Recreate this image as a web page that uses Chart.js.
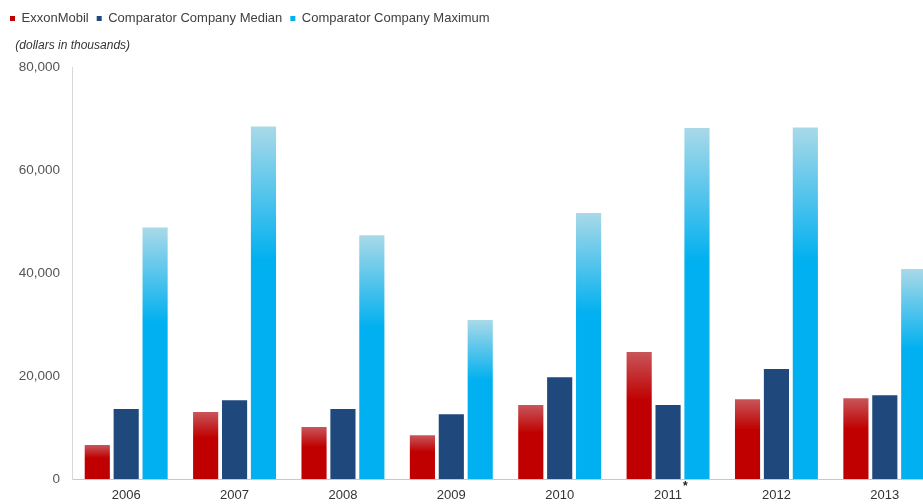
<!DOCTYPE html>
<html>
<head>
<meta charset="utf-8">
<script src="https://cdn.jsdelivr.net/npm/chart.js@4.4.1/dist/chart.umd.min.js"></script>
<style>
  html, body { margin: 0; padding: 0; background: #fff; overflow: hidden; }
  #wrap { width: 939px; height: 504px; position: relative; }
</style>
</head>
<body>
<div id="wrap"><canvas id="payChart"></canvas></div>
<script>
  const years = ['2006', '2007', '2008', '2009', '2010', '2011', '2012', '2013'];
  const exxonMobil = [6600, 13000, 10100, 8500, 14400, 24700, 15500, 15700];
  const compMedian = [13600, 15300, 13600, 12600, 19800, 14400, 21400, 16300];
  const compMaximum = [48900, 68500, 47400, 30900, 51700, 68200, 68300, 40800];
  const yTicks = [0, 20000, 40000, 60000, 80000];
  const footnoteYear = '2011';

  // vertical gradient per bar: lighter at the top, solid from ~38% down
  function barFill(topColor, baseColor) {
    return function(ctx) {
      const chart = ctx.chart;
      const y = chart.scales.y;
      if (ctx.type !== 'data' || !y) return baseColor;
      const yTop = y.getPixelForValue(ctx.raw);
      const yBot = y.getPixelForValue(0);
      if (!isFinite(yTop) || !isFinite(yBot) || yBot - yTop < 1) return baseColor;
      const g = chart.ctx.createLinearGradient(0, yTop, 0, yBot);
      g.addColorStop(0, topColor);
      g.addColorStop(0.38, baseColor);
      g.addColorStop(1, baseColor);
      return g;
    };
  }

  const solidColors = ['#c00000', '#1f497d', '#00b0f0'];

  // superscript asterisk next to 2011
  const footnotePlugin = {
    id: 'footnote',
    afterDraw(chart) {
      const x = chart.scales.x.getPixelForValue(years.indexOf(footnoteYear));
      const c = chart.ctx;
      c.save();
      c.fillStyle = '#222';
      c.font = 'bold 12px "Liberation Sans", Arial, sans-serif';
      c.textAlign = 'left';
      c.textBaseline = 'middle';
      c.fillText('*', x + 15, chart.chartArea.bottom + 8);
      c.restore();
    }
  };

  new Chart(document.getElementById('payChart').getContext('2d'), {
    type: 'bar',
    data: {
      labels: years,
      datasets: [
        { label: 'ExxonMobil', data: exxonMobil, backgroundColor: barFill('#c8565a', '#c00000') },
        { label: 'Comparator Company Median', data: compMedian, backgroundColor: '#1f497d' },
        { label: 'Comparator Company Maximum', data: compMaximum, backgroundColor: barFill('#a9d9e8', '#00b0f0') }
      ]
    },
    options: {
      responsive: true,
      maintainAspectRatio: false,
      animation: false,
      layout: { padding: { left: 2, right: 0, top: 4, bottom: 0 } },
      datasets: { bar: { categoryPercentage: 0.8, barPercentage: 0.87 } },
      plugins: {
        legend: {
          position: 'top',
          align: 'start',
          weight: 2000,
          labels: {
            boxWidth: 5,
            boxHeight: 5,
            padding: 8,
            color: '#404040',
            font: { family: '"Liberation Sans", Arial, sans-serif', size: 13 },
            generateLabels(chart) {
              return Chart.defaults.plugins.legend.labels.generateLabels(chart).map((l, i) => {
                l.fillStyle = solidColors[i];
                l.strokeStyle = solidColors[i];
                l.lineWidth = 0;
                return l;
              });
            }
          }
        },
        subtitle: {
          display: true,
          text: '    (dollars in thousands)',
          align: 'start',
          position: 'top',
          weight: 1000,
          color: '#333',
          font: { family: '"Liberation Sans", Arial, sans-serif', size: 12, style: 'italic', weight: 'normal' },
          padding: { top: 3, bottom: 15 }
        },
        tooltip: { enabled: false }
      },
      scales: {
        x: {
          grid: { display: false },
          border: { color: '#c8c8c8', width: 1 },
          ticks: { color: '#333', font: { family: '"Liberation Sans", Arial, sans-serif', size: 13 }, padding: 1 },
          afterFit(scale) { scale.height = 25; }
        },
        y: {
          min: 0,
          max: 80000,
          grid: { display: false },
          border: { color: '#d8d8d8', width: 1 },
          afterBuildTicks(scale) { scale.ticks = yTicks.map(v => ({ value: v })); },
          ticks: {
            color: '#555',
            padding: 4,
            font: { family: '"Liberation Sans", Arial, sans-serif', size: 13.5 },
            callback: v => v.toLocaleString('en-US')
          },
          afterFit(scale) { scale.width = 70; }
        }
      }
    },
    plugins: [footnotePlugin]
  });
</script>
</body>
</html>
